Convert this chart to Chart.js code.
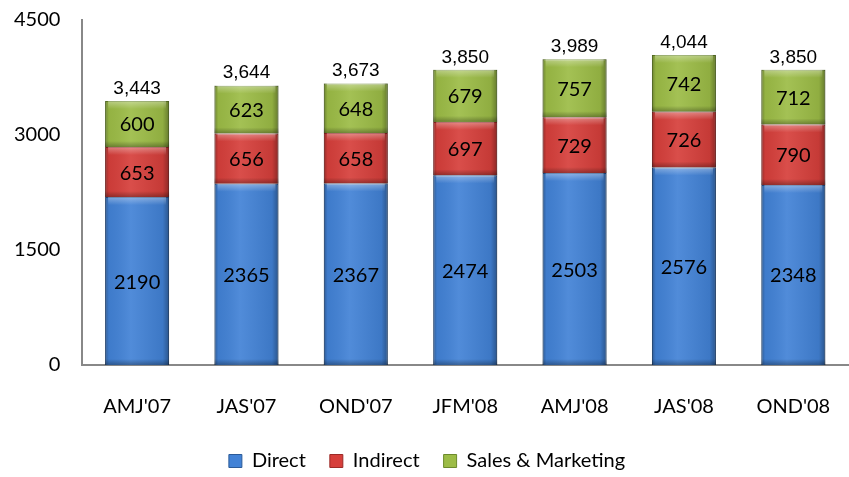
<!DOCTYPE html>
<html>
<head>
<meta charset="utf-8">
<script src="https://cdn.jsdelivr.net/npm/chart.js@4.4.0/dist/chart.umd.min.js"></script>
<style>
  html, body { margin: 0; padding: 0; background: #fff; }
  #wrap { width: 849px; height: 477px; }
</style>
</head>
<body>
<div id="wrap"><canvas id="chart"></canvas></div>
<script>
const quarters = ["AMJ'07", "JAS'07", "OND'07", "JFM'08", "AMJ'08", "JAS'08", "OND'08"];
const direct = [2190, 2365, 2367, 2474, 2503, 2576, 2348];
const indirect = [653, 656, 658, 697, 729, 726, 790];
const salesMarketing = [600, 623, 648, 679, 757, 742, 712];
const yTicks = [0, 1500, 3000, 4500];

const totals = quarters.map((q, i) => direct[i] + indirect[i] + salesMarketing[i]);

// bevel shading on top of each bar segment, then the value labels
const bevelPlugin = {
  id: "bevel",
  afterDatasetsDraw(chart) {
    const c = chart.ctx;
    chart.data.datasets.forEach((ds, di) => {
      chart.getDatasetMeta(di).data.forEach((bar) => {
        const left = bar.x - bar.width / 2;
        const top = Math.min(bar.y, bar.base);
        const h = Math.abs(bar.base - bar.y);
        const g = c.createLinearGradient(left, 0, left + bar.width, 0);
        g.addColorStop(0, "rgba(0,0,0,0.30)");
        g.addColorStop(0.06, "rgba(0,0,0,0.05)");
        g.addColorStop(0.4, "rgba(255,255,255,0.08)");
        g.addColorStop(0.9, "rgba(0,0,0,0.08)");
        g.addColorStop(1, "rgba(0,0,0,0.35)");
        c.save();
        c.fillStyle = g;
        c.fillRect(left, top, bar.width, h);
        const t = c.createLinearGradient(0, top, 0, top + 8);
        t.addColorStop(0, "rgba(255,255,255,0.35)");
        t.addColorStop(1, "rgba(255,255,255,0)");
        c.fillStyle = t;
        c.fillRect(left + 3, top, bar.width - 6, 8);
        const b = c.createLinearGradient(0, top + h - 6, 0, top + h);
        b.addColorStop(0, "rgba(0,0,0,0)");
        b.addColorStop(1, "rgba(0,0,0,0.3)");
        c.fillStyle = b;
        c.fillRect(left, top + h - 6, bar.width, 6);
        c.restore();
      });
    });
  },
  afterDraw(chart) {
    const c = chart.ctx;
    c.save();
    c.fillStyle = "#000";
    c.textAlign = "center";
    c.textBaseline = "middle";
    c.font = "20px Lato";
    chart.data.datasets.forEach((ds, di) => {
      chart.getDatasetMeta(di).data.forEach((bar, i) => {
        c.fillText(String(ds.data[i]), bar.x, (bar.y + bar.base) / 2 + 1);
      });
    });
    const topMeta = chart.getDatasetMeta(chart.data.datasets.length - 1);
    c.font = "19px 'Liberation Sans'";
    c.textBaseline = "bottom";
    topMeta.data.forEach((bar, i) => {
      c.fillText(totals[i].toLocaleString("en-US"), bar.x, bar.y - 3);
    });
    c.restore();
  }
};

const ctx = document.getElementById("chart").getContext("2d");
new Chart(ctx, {
  type: "bar",
  data: {
    labels: quarters,
    datasets: [
      { label: "Direct", data: direct, backgroundColor: "#4282d6", borderColor: "#2b5a98", borderWidth: 1 },
      { label: "Indirect", data: indirect, backgroundColor: "#d63f3b", borderColor: "#9c2a27", borderWidth: 1 },
      { label: "Sales & Marketing", data: salesMarketing, backgroundColor: "#9cbc46", borderColor: "#6c8a2c", borderWidth: 1 },
    ],
  },
  options: {
    responsive: true,
    maintainAspectRatio: false,
    animation: false,
    layout: { padding: { left: 6, top: 0, right: 1, bottom: -4 } },
    datasets: { bar: { categoryPercentage: 1, barPercentage: 0.585 } },
    scales: {
      x: {
        stacked: true,
        // invisible tick marks make the gap, so the padding doesn't widen the sides
        grid: { display: false, drawTicks: true, tickLength: 26, tickColor: "rgba(0,0,0,0)" },
        border: { display: true, color: "#888", width: 2 },
        ticks: { color: "#000", font: { family: "Lato", size: 20 }, padding: 4 },
        afterFit: (axis) => { axis.height += 4; },
      },
      y: {
        stacked: true,
        min: yTicks[0],
        max: yTicks[yTicks.length - 1],
        afterBuildTicks: (axis) => { axis.ticks = yTicks.map((v) => ({ value: v })); },
        grid: { display: false, drawTicks: true, tickLength: 14, tickColor: "rgba(0,0,0,0)" },
        border: { display: true, color: "#888", width: 2 },
        ticks: { color: "#000", font: { family: "Lato", size: 20 }, padding: 8, callback: (v) => String(v) },
      },
    },
    plugins: {
      legend: {
        position: "bottom",
        labels: {
          color: "#000",
          font: { family: "Lato", size: 20 },
          boxWidth: 13,
          boxHeight: 13,
          padding: 24,
        },
      },
      tooltip: { enabled: false },
    },
  },
  plugins: [bevelPlugin],
});
</script>
</body>
</html>
